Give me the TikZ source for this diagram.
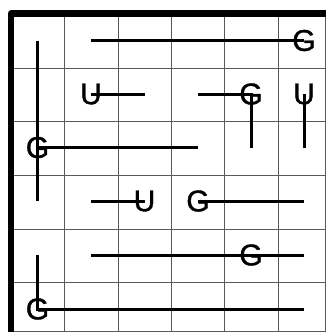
\documentclass[tikz,border=0pt]{standalone}
\usepackage{fontspec}
\setmainfont{Liberation Sans}
\newfontfamily\letterfont[FakeBold=1.2]{Liberation Sans}
\begin{document}
\begin{tikzpicture}[x=1pt,y=-1pt,
  gridline/.style={line width=1pt,black!65},
  frame/.style={line width=6.5pt,black,line join=round},
  conn/.style={line width=3pt,black},
  letter/.style={inner sep=0pt,anchor=center,font=\letterfont\fontsize{30}{30}\selectfont}]
\useasboundingbox (0,0) rectangle (327,333);
% grid
\foreach \x in {64,118,171,224,278,325.5} \draw[gridline] (\x,13.7) -- (\x,331.7);
\foreach \y in {68,121,175,229,282,331.7} \draw[gridline] (11,\y) -- (325.5,\y);
\draw[frame] (11,331.7) -- (11,13.7) -- (325.5,13.7);
% cell centres
\foreach \c/\x in {0/37.5,1/91,2/144.5,3/198,4/251,5/304}
  \foreach \r/\y in {0/40.5,1/94,2/147.5,3/201,4/255,5/309}
    \coordinate (p\c\r) at (\x,\y);
% letters
\node[letter] (g50) at (p50) {G};
\node[letter] (u11) at (p11) {U};
\node[letter] (g41) at (p41) {G};
\node[letter] (u51) at (p51) {U};
\node[letter] (g02) at (p02) {G};
\node[letter] (u23) at (p23) {U};
\node[letter] (g33) at (p33) {G};
\node[letter] (g44) at (p44) {G};
\node[letter] (g05) at (p05) {G};
% connectors
\draw[conn] (p00) -- (p03);
\draw[conn] (p10) -- (g50.center);
\draw[conn] (u11.center) -- (p21);
\draw[conn] (p31) -- (g41.center) -- (p42);
\draw[conn] (u51.center) -- (p52);
\draw[conn] (g02.center) -- (p32);
\draw[conn] (p13) -- (u23.center);
\draw[conn] (g33.center) -- (p53);
\draw[conn] (p14) -- (g44.center) -- (p54);
\draw[conn] (p04) -- (g05.center) -- (p55);
\end{tikzpicture}
\end{document}
